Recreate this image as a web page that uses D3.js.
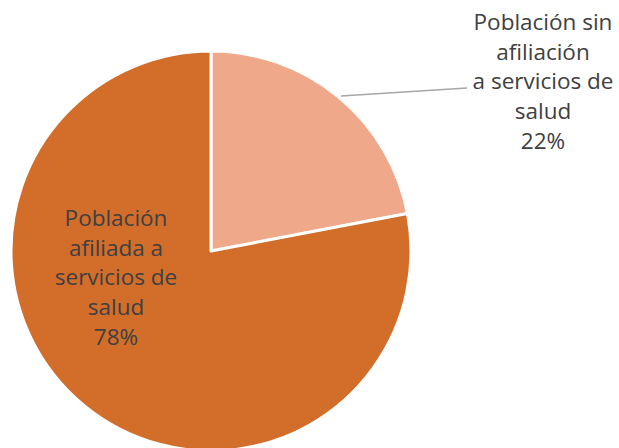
<!DOCTYPE html>
<html><head><meta charset="utf-8">
<script src="https://cdn.jsdelivr.net/npm/d3@7"></script>
<style>html,body{margin:0;padding:0;background:#fff;}svg{display:block;}</style>
</head><body>
<svg id="c" width="619" height="448"></svg>
<script>
const categories = ["Población sin afiliación a servicios de salud", "Población afiliada a servicios de salud"];
const values = [22, 78];
const colors = ["#F0A88A", "#D26D2A"];
const labelLines = [
  ["Población sin", "afiliación", "a servicios de", "salud", "22%"],
  ["Población", "afiliada a", "servicios de", "salud", "78%"]
];

const svg = d3.select("#c");
const cx = 211, cy = 251, r = 200;
const g = svg.append("g").attr("transform", `translate(${cx},${cy})`);
const pie = d3.pie().sort(null).value(d => d)(values);
const arc = d3.arc().innerRadius(0).outerRadius(r);
g.selectAll("path").data(pie).join("path")
  .attr("d", arc)
  .attr("fill", (d, i) => colors[i])
  .attr("stroke", "#fff").attr("stroke-width", 3).attr("stroke-linejoin", "round");

// leader line for small slice
svg.append("polyline")
  .attr("points", "341,96 467,88")
  .attr("fill", "none").attr("stroke", "#A6A6A6").attr("stroke-width", 1.5);

const lh = 29.7;
const labelPos = [[543, 22], [116, 218]];
labelLines.forEach((lines, i) => {
  const t = svg.append("text")
    .attr("font-family", "'Open Sans', sans-serif")
    .attr("font-size", 22.5)
    .attr("fill", "#404040")
    .attr("text-anchor", "middle");
  lines.forEach((l, k) => {
    t.append("tspan").attr("x", labelPos[i][0]).attr("y", labelPos[i][1] + k * lh)
      .attr("dy", "0.35em").text(l);
  });
});
</script>
</body></html>
